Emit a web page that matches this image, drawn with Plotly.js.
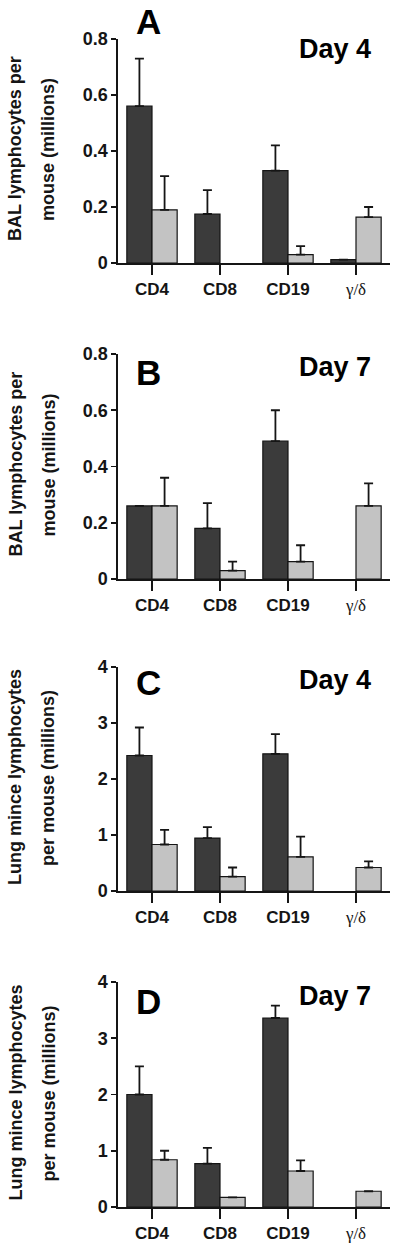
<!DOCTYPE html>
<html><head><meta charset="utf-8">
<script src="https://cdn.plot.ly/plotly-3.0.1.min.js"></script>
<style>html,body{margin:0;padding:0;background:#fff}#chart{width:400px;height:1246px}</style>
</head><body><div id="chart"></div>
<script>
// ---- data ----
const categories = ["CD4", "CD8", "CD19", "γ/δ"];
const tickLabels = ["CD4", "CD8", "CD19", "<span style='font-family:\"Liberation Serif\",\"Times New Roman\",serif;font-weight:normal;font-size:17px'>γ/δ</span>"];

const panelLetters = ["A", "B", "C", "D"];
const panelDays = ["Day 4", "Day 7", "Day 4", "Day 7"];
const yTitleLine1 = ["BAL lymphocytes per", "BAL lymphocytes per", "Lung mince lymphocytes", "Lung mince lymphocytes"];
const yTitleLine2 = ["mouse (millions)", "mouse (millions)", "per mouse (millions)", "per mouse (millions)"];
const yMax = [0.8, 0.8, 4, 4];
const yTicks = [[0, 0.2, 0.4, 0.6, 0.8], [0, 0.2, 0.4, 0.6, 0.8], [0, 1, 2, 3, 4], [0, 1, 2, 3, 4]];
const yTickText = [["0", "0.2", "0.4", "0.6", "0.8"], ["0", "0.2", "0.4", "0.6", "0.8"], ["0", "1", "2", "3", "4"], ["0", "1", "2", "3", "4"]];

const darkA = [0.56, 0.175, 0.33, 0.012];
const darkErrA = [0.17, 0.085, 0.09, null];
const lightA = [0.19, null, 0.03, 0.164];
const lightErrA = [0.12, null, 0.03, 0.036];

const darkB = [0.26, 0.18, 0.49, null];
const darkErrB = [null, 0.09, 0.11, null];
const lightB = [0.26, 0.03, 0.062, 0.26];
const lightErrB = [0.10, 0.032, 0.058, 0.08];

const darkC = [2.42, 0.945, 2.45, null];
const darkErrC = [0.50, 0.195, 0.35, null];
const lightC = [0.83, 0.255, 0.61, 0.42];
const lightErrC = [0.26, 0.165, 0.36, 0.11];

const darkD = [2.00, 0.77, 3.36, null];
const darkErrD = [0.50, 0.28, 0.22, null];
const lightD = [0.84, 0.17, 0.64, 0.28];
const lightErrD = [0.16, null, 0.19, null];

const darkSeries = [darkA, darkB, darkC, darkD];
const darkErrors = [darkErrA, darkErrB, darkErrC, darkErrD];
const lightSeries = [lightA, lightB, lightC, lightD];
const lightErrors = [lightErrA, lightErrB, lightErrC, lightErrD];

// ---- layout (pixel positions) ----
const W = 400, H = 1246;
const plotLeft = 118, plotRight = 390;
const plotTops = [39, 354, 667, 982];
const plotBottoms = [263, 579, 891, 1207];
const px = x => x / W;
const py = y => 1 - y / H;

const FONT = "Liberation Sans, Arial, Helvetica, sans-serif";
const DARK = "#3b3b3b", LIGHT = "#c3c3c3", INK = "#151515";

const traces = [];
const layout = {
  width: W, height: H,
  margin: {l: 0, r: 0, t: 0, b: 0},
  paper_bgcolor: "#fff", plot_bgcolor: "#fff",
  showlegend: false,
  barmode: "group", bargap: 0.26, bargroupgap: 0,
  annotations: []
};

const letterY = [21, 372, 682, 1001];
const dayY = [49, 367, 680, 996];

for (let i = 0; i < 4; i++) {
  const sx = i === 0 ? "" : String(i + 1);
  const xa = "x" + sx, ya = "y" + sx;
  const mkErr = arr => ({
    type: "data", symmetric: false,
    array: arr, arrayminus: arr.map(v => v == null ? null : 0),
    color: INK, thickness: 1.8, width: 4.5
  });
  traces.push({
    type: "bar", x: categories, y: darkSeries[i], xaxis: xa, yaxis: ya,
    name: "dark", marker: {color: DARK, line: {color: INK, width: 1.2}},
    error_y: mkErr(darkErrors[i])
  });
  traces.push({
    type: "bar", x: categories, y: lightSeries[i], xaxis: xa, yaxis: ya,
    name: "light", marker: {color: LIGHT, line: {color: INK, width: 1.2}},
    error_y: mkErr(lightErrors[i])
  });
  layout["xaxis" + sx] = {
    domain: [px(plotLeft), px(plotRight)], anchor: ya,
    type: "category", range: [-0.5, 3.5],
    tickmode: "array", tickvals: categories, ticktext: tickLabels,
    ticks: "outside", ticklen: 10, tickwidth: 1.6, tickcolor: INK,
    showline: true, linecolor: INK, linewidth: 1.6,
    showgrid: false, zeroline: false, fixedrange: true,
    tickfont: {family: FONT, size: 17, color: INK, weight: "bold"}
  };
  layout["yaxis" + sx] = {
    domain: [py(plotBottoms[i]), py(plotTops[i])], anchor: xa,
    range: [0, yMax[i]],
    tickmode: "array", tickvals: yTicks[i], ticktext: yTickText[i],
    ticks: "outside", ticklen: 5, tickwidth: 1.6, tickcolor: INK,
    showline: true, linecolor: INK, linewidth: 1.6,
    showgrid: false, zeroline: false, fixedrange: true,
    tickfont: {family: FONT, size: 18, color: INK, weight: "bold"}
  };
  const midY = (plotTops[i] + plotBottoms[i]) / 2;
  layout.annotations.push(
    {text: panelLetters[i], xref: "paper", yref: "paper", x: px(148), y: py(letterY[i]),
     xanchor: "center", yanchor: "middle", showarrow: false,
     font: {family: FONT, size: 35, color: "#000", weight: "bold"}},
    {text: panelDays[i], xref: "paper", yref: "paper", x: px(335), y: py(dayY[i]),
     xanchor: "center", yanchor: "middle", showarrow: false,
     font: {family: FONT, size: 27, color: "#000", weight: "bold"}},
    {text: yTitleLine1[i], xref: "paper", yref: "paper", x: px(15), y: py(midY - 2),
     xanchor: "center", yanchor: "middle", showarrow: false, textangle: -90,
     font: {family: FONT, size: 18, color: INK, weight: "bold"}},
    {text: yTitleLine2[i], xref: "paper", yref: "paper", x: px(48), y: py(midY - 1),
     xanchor: "center", yanchor: "middle", showarrow: false, textangle: -90,
     font: {family: FONT, size: 18, color: INK, weight: "bold"}}
  );
}

Plotly.newPlot("chart", traces, layout, {staticPlot: true, displayModeBar: false});
</script>
</body></html>
